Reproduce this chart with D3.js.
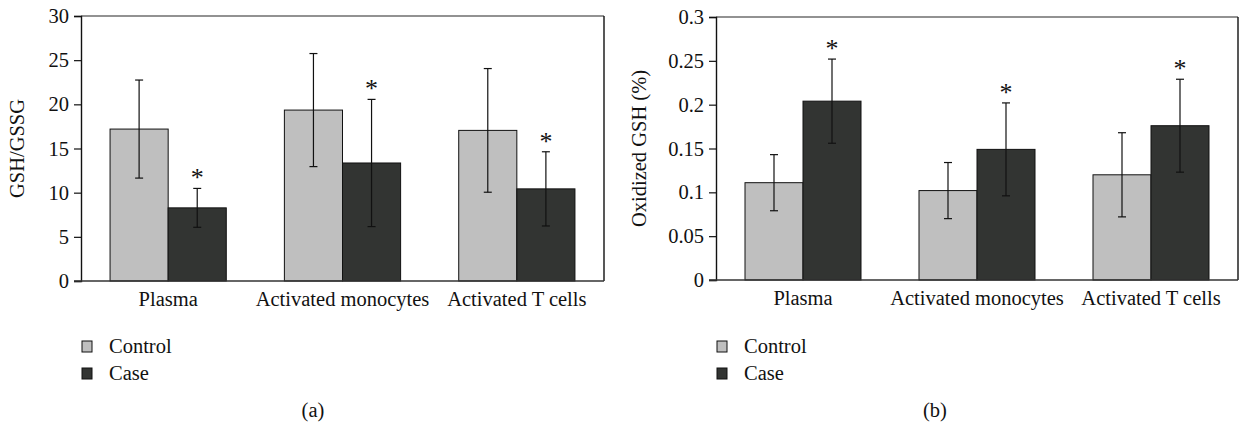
<!DOCTYPE html>
<html><head><meta charset="utf-8">
<script src="https://cdn.jsdelivr.net/npm/d3@7"></script>
<style>body{margin:0;background:#fff}svg text{font-family:"Liberation Serif","Times New Roman",serif;fill:#111}</style>
</head><body>
<svg id="c" width="1239" height="426"></svg>
<script>
const categories = ["Plasma", "Activated monocytes", "Activated T cells"];
const seriesNames = ["Control", "Case"];
// Panel (a): GSH/GSSG
const ratioControl = [17.2, 19.35, 17.05];
const ratioControlErr = [5.55, 6.4, 7.0];
const ratioCase = [8.28, 13.36, 10.43];
const ratioCaseErr = [2.2, 7.2, 4.2];
const ratioTicks = [0, 5, 10, 15, 20, 25, 30];
// Panel (b): Oxidized GSH (%)
const oxControl = [0.111, 0.102, 0.120];
const oxControlErr = [0.032, 0.032, 0.048];
const oxCase = [0.204, 0.149, 0.176];
const oxCaseErr = [0.048, 0.053, 0.053];
const oxTicks = [0, 0.05, 0.1, 0.15, 0.2, 0.25, 0.3];
const oxTickLabels = ["0", "0.05", "0.1", "0.15", "0.2", "0.25", "0.3"];
const significant = [true, true, true];

const FONT = "Liberation Serif";
const FS = 20.5;
const svg = d3.select("#c");
const colors = {Control: "#bfbfbf", Case: "#323432"};

function panel(opt) {
  const g = svg.append("g");
  const x0 = d3.scaleBand().domain(categories).range([opt.left, opt.right]).paddingInner(0).paddingOuter(0);
  const x1 = d3.scaleBand().domain(seriesNames).range([0, x0.bandwidth()]).paddingInner(0).paddingOuter(0.5);
  const y = d3.scaleLinear().domain([0, opt.max]).range([opt.bottom, opt.top]);

  g.append("line").attr("x1", opt.left).attr("x2", opt.right).attr("y1", opt.top).attr("y2", opt.top)
    .attr("stroke", "#6e6e6e").attr("stroke-width", 1.6);
  g.append("line").attr("x1", opt.right).attr("x2", opt.right).attr("y1", opt.top).attr("y2", opt.bottom)
    .attr("stroke", "#111").attr("stroke-width", 1.4);

  const rows = categories.map((c, i) => ({
    cat: c,
    vals: [
      {s: "Control", v: opt.control[i], e: opt.controlErr[i], star: false},
      {s: "Case", v: opt.case[i], e: opt.caseErr[i], star: significant[i]}
    ]
  }));
  const grp = g.selectAll("g.grp").data(rows).join("g").attr("transform", d => `translate(${x0(d.cat)},0)`);
  grp.selectAll("rect").data(d => d.vals).join("rect")
    .attr("x", d => x1(d.s)).attr("width", x1.bandwidth())
    .attr("y", d => y(d.v)).attr("height", d => y(0) - y(d.v))
    .attr("fill", d => colors[d.s]).attr("stroke", "#111").attr("stroke-width", 1);
  const eb = grp.selectAll("g.eb").data(d => d.vals).join("g");
  eb.append("line").attr("x1", d => x1(d.s) + x1.bandwidth() / 2).attr("x2", d => x1(d.s) + x1.bandwidth() / 2)
    .attr("y1", d => y(d.v + d.e)).attr("y2", d => y(d.v - d.e)).attr("stroke", "#111").attr("stroke-width", 1.2);
  [1, -1].forEach(sg => {
    eb.append("line").attr("x1", d => x1(d.s) + x1.bandwidth() / 2 - 4).attr("x2", d => x1(d.s) + x1.bandwidth() / 2 + 4)
      .attr("y1", d => y(d.v + sg * d.e)).attr("y2", d => y(d.v + sg * d.e)).attr("stroke", "#111").attr("stroke-width", 1.2);
  });
  eb.filter(d => d.star).append("text").attr("x", d => x1(d.s) + x1.bandwidth() / 2)
    .attr("y", d => y(d.v + d.e) - 2).attr("text-anchor", "middle").attr("font-size", 26)
    .attr("font-family", FONT).attr("fill", "#222").text("*");

  const ya = d3.axisLeft(y).tickValues(opt.ticks).tickSize(7).tickPadding(5).tickFormat((d, i) => opt.tickLabels[i]);
  const yg = g.append("g").attr("transform", `translate(${opt.left},0)`).call(ya);
  yg.attr("font-family", FONT);
  yg.select(".domain").attr("stroke", "#111").attr("stroke-width", 1.4);
  yg.selectAll(".tick line").attr("stroke", "#111").attr("stroke-width", 1.2);
  yg.selectAll(".tick text").attr("font-size", FS).attr("font-family", FONT).attr("fill", "#111");
  const xa = d3.axisBottom(x0).tickSize(0).tickPadding(10);
  const xg = g.append("g").attr("transform", `translate(0,${opt.bottom})`).call(xa);
  xg.attr("font-family", FONT);
  xg.select(".domain").remove();
  xg.selectAll(".tick text").attr("font-size", FS).attr("font-family", FONT).attr("fill", "#111");
  g.append("line").attr("x1", opt.left - 7).attr("x2", opt.right).attr("y1", opt.bottom).attr("y2", opt.bottom)
    .attr("stroke", "#333").attr("stroke-width", 1.6);

  g.append("text").attr("transform", `translate(${opt.labelX},${(opt.top + opt.bottom) / 2}) rotate(-90)`)
    .attr("text-anchor", "middle").attr("font-size", FS).attr("font-family", FONT).text(opt.ylabel);

  const lg = g.append("g").selectAll("g").data(seriesNames).join("g")
    .attr("transform", (d, i) => `translate(${opt.left + 1},${341 + i * 27})`);
  lg.append("rect").attr("width", 10).attr("height", 11).attr("fill", d => colors[d]).attr("stroke", "#111").attr("stroke-width", 1);
  lg.append("text").attr("x", 27).attr("y", 12).attr("font-size", FS).attr("font-family", FONT).text(d => d);

  g.append("text").attr("x", opt.capX).attr("y", 417).attr("text-anchor", "middle").attr("font-size", FS)
    .attr("font-family", FONT).text(opt.caption);
}

panel({left: 81, right: 604, top: 16, bottom: 281, max: 30, ticks: ratioTicks, tickLabels: ratioTicks.map(String),
  control: ratioControl, controlErr: ratioControlErr, case: ratioCase, caseErr: ratioCaseErr,
  ylabel: "GSH/GSSG", labelX: 24, caption: "(a)", capX: 313});
panel({left: 716, right: 1238, top: 17, bottom: 280, max: 0.3, ticks: oxTicks, tickLabels: oxTickLabels,
  control: oxControl, controlErr: oxControlErr, case: oxCase, caseErr: oxCaseErr,
  ylabel: "Oxidized GSH (%)", labelX: 646, caption: "(b)", capX: 935});
</script>
</body></html>
